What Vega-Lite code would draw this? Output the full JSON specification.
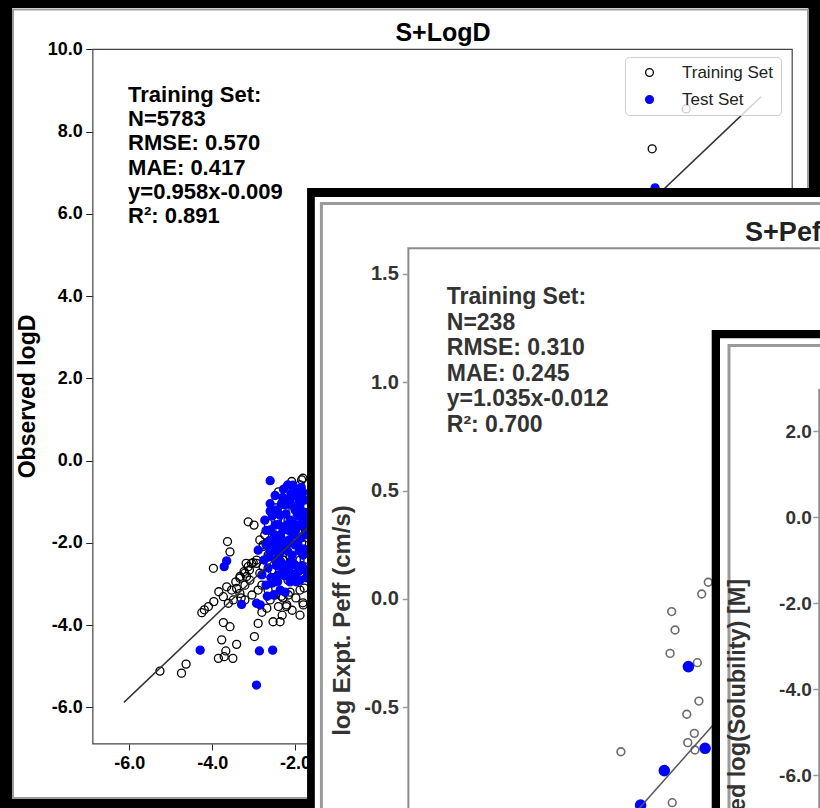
{
  "$schema": "https://vega.github.io/schema/vega-lite/v6.json",
  "width": 820,
  "height": 808,
  "padding": 0,
  "autosize": "none",
  "background": "white",
  "config": {
    "view": {"stroke": null},
    "font": "Liberation Sans",
    "axis": {"labelFont": "Liberation Sans", "titleFont": "Liberation Sans", "grid": false, "domain": false, "labelOverlap": false, "labelFlush": false, "labelBound": false},
    "text": {"font": "Liberation Sans"}
  },
  "datasets": {
    "logd": [
      {"x": -5.26, "y": -5.12, "set": "Training Set"}, {"x": -4.74, "y": -5.17, "set": "Training Set"}, {"x": -4.63, "y": -4.95, "set": "Training Set"},
      {"x": -4.25, "y": -3.70, "set": "Training Set"}, {"x": -4.19, "y": -3.63, "set": "Training Set"}, {"x": -4.09, "y": -3.55, "set": "Training Set"},
      {"x": -3.96, "y": -3.43, "set": "Training Set"}, {"x": -3.97, "y": -2.62, "set": "Training Set"}, {"x": -3.84, "y": -3.19, "set": "Training Set"},
      {"x": -3.73, "y": -3.31, "set": "Training Set"}, {"x": -3.63, "y": -1.97, "set": "Training Set"}, {"x": -3.57, "y": -2.22, "set": "Training Set"},
      {"x": -3.65, "y": -3.07, "set": "Training Set"}, {"x": -3.53, "y": -3.15, "set": "Training Set"}, {"x": -3.41, "y": -3.11, "set": "Training Set"},
      {"x": -3.33, "y": -3.23, "set": "Training Set"}, {"x": -3.49, "y": -3.39, "set": "Training Set"}, {"x": -3.61, "y": -3.47, "set": "Training Set"},
      {"x": -3.73, "y": -3.94, "set": "Training Set"}, {"x": -3.57, "y": -4.04, "set": "Training Set"}, {"x": -3.77, "y": -4.36, "set": "Training Set"},
      {"x": -3.67, "y": -4.63, "set": "Training Set"}, {"x": -3.85, "y": -4.81, "set": "Training Set"}, {"x": -3.71, "y": -4.77, "set": "Training Set"},
      {"x": -3.50, "y": -4.81, "set": "Training Set"}, {"x": -3.41, "y": -4.47, "set": "Training Set"}, {"x": -3.13, "y": -1.49, "set": "Training Set"},
      {"x": -2.99, "y": -1.57, "set": "Training Set"}, {"x": -3.23, "y": -2.70, "set": "Training Set"}, {"x": -3.17, "y": -2.82, "set": "Training Set"},
      {"x": -3.13, "y": -2.58, "set": "Training Set"}, {"x": -3.01, "y": -2.48, "set": "Training Set"}, {"x": -2.93, "y": -2.42, "set": "Training Set"},
      {"x": -2.98, "y": -4.28, "set": "Training Set"}, {"x": -2.89, "y": -3.96, "set": "Training Set"}, {"x": -2.53, "y": -3.92, "set": "Training Set"},
      {"x": -2.36, "y": -3.92, "set": "Training Set"}, {"x": -2.68, "y": -3.59, "set": "Training Set"}, {"x": -2.40, "y": -3.55, "set": "Training Set"},
      {"x": -2.20, "y": -3.51, "set": "Training Set"}, {"x": -1.80, "y": -3.51, "set": "Training Set"}, {"x": -2.40, "y": -0.76, "set": "Training Set"},
      {"x": -2.08, "y": -0.51, "set": "Training Set"}, {"x": -2.20, "y": -0.64, "set": "Training Set"}, {"x": -2.85, "y": -1.93, "set": "Training Set"},
      {"x": -2.77, "y": -2.05, "set": "Training Set"}, {"x": -2.73, "y": -1.81, "set": "Training Set"}, {"x": -2.60, "y": -1.69, "set": "Training Set"},
      {"x": -2.80, "y": -3.03, "set": "Training Set"}, {"x": -2.65, "y": -3.15, "set": "Training Set"}, {"x": -2.48, "y": -3.27, "set": "Training Set"},
      {"x": -2.29, "y": -3.34, "set": "Training Set"}, {"x": -2.12, "y": -3.20, "set": "Training Set"}, {"x": -1.98, "y": -3.34, "set": "Training Set"},
      {"x": -1.88, "y": -3.15, "set": "Training Set"}, {"x": -2.46, "y": -0.96, "set": "Training Set"}, {"x": -2.24, "y": -1.20, "set": "Training Set"},
      {"x": -2.00, "y": -0.84, "set": "Training Set"}, {"x": -1.88, "y": -0.59, "set": "Training Set"}, {"x": -1.81, "y": -0.43, "set": "Training Set"},
      {"x": -2.65, "y": -2.30, "set": "Training Set"}, {"x": -2.56, "y": -2.66, "set": "Training Set"}, {"x": -2.36, "y": -2.78, "set": "Training Set"},
      {"x": -2.17, "y": -2.91, "set": "Training Set"}, {"x": -2.03, "y": -2.78, "set": "Training Set"}, {"x": -1.88, "y": -2.66, "set": "Training Set"},
      {"x": -2.29, "y": -2.42, "set": "Training Set"}, {"x": -2.10, "y": -2.54, "set": "Training Set"}, {"x": -1.78, "y": -2.42, "set": "Training Set"},
      {"x": -1.78, "y": -2.05, "set": "Training Set"}, {"x": -1.93, "y": -1.69, "set": "Training Set"}, {"x": -2.17, "y": -1.45, "set": "Training Set"},
      {"x": -2.41, "y": -1.40, "set": "Training Set"}, {"x": -3.21, "y": -3.03, "set": "Training Set"}, {"x": -3.09, "y": -2.91, "set": "Training Set"},
      {"x": -3.33, "y": -2.86, "set": "Training Set"}, {"x": -3.43, "y": -2.95, "set": "Training Set"}, {"x": -2.89, "y": -3.15, "set": "Training Set"},
      {"x": -3.04, "y": -3.27, "set": "Training Set"}, {"x": -3.21, "y": -3.39, "set": "Training Set"}, {"x": -3.30, "y": -3.34, "set": "Training Set"},
      {"x": -2.60, "y": -3.39, "set": "Training Set"}, {"x": -2.80, "y": -3.69, "set": "Training Set"}, {"x": -2.31, "y": -3.76, "set": "Training Set"},
      {"x": -2.07, "y": -3.64, "set": "Training Set"}, {"x": -1.88, "y": -3.76, "set": "Training Set"}, {"x": -1.78, "y": -3.10, "set": "Training Set"},
      {"x": -2.56, "y": -1.25, "set": "Training Set"}, {"x": -1.76, "y": -1.08, "set": "Training Set"}, {"x": -1.88, "y": -0.91, "set": "Training Set"},
      {"x": -2.65, "y": -1.53, "set": "Training Set"}, {"x": -2.68, "y": -2.01, "set": "Training Set"}, {"x": -1.84, "y": -0.47, "set": "Training Set"},
      {"x": -2.16, "y": -3.27, "set": "Training Set"}, {"x": -2.33, "y": -3.30, "set": "Training Set"}, {"x": -2.21, "y": -3.55, "set": "Training Set"},
      {"x": -1.81, "y": -3.46, "set": "Training Set"}, {"x": -2.77, "y": -2.09, "set": "Training Set"}, {"x": -2.66, "y": -2.07, "set": "Training Set"},
      {"x": -2.60, "y": -2.22, "set": "Training Set"}, {"x": -2.93, "y": -2.50, "set": "Training Set"}, {"x": -2.77, "y": -2.58, "set": "Training Set"},
      {"x": -2.85, "y": -2.74, "set": "Training Set"}, {"x": -2.68, "y": -2.74, "set": "Training Set"}, {"x": -3.33, "y": -2.82, "set": "Training Set"},
      {"x": -3.21, "y": -2.74, "set": "Training Set"}, {"x": -3.10, "y": -2.66, "set": "Training Set"}, {"x": -3.05, "y": -2.50, "set": "Training Set"},
      {"x": -3.18, "y": -2.50, "set": "Training Set"}, {"x": -2.40, "y": -2.26, "set": "Training Set"}, {"x": -2.28, "y": -2.42, "set": "Training Set"},
      {"x": -2.12, "y": -2.34, "set": "Training Set"}, {"x": -2.20, "y": -2.66, "set": "Training Set"}, {"x": -2.04, "y": -2.58, "set": "Training Set"},
      {"x": -1.88, "y": -2.42, "set": "Training Set"}, {"x": -2.04, "y": -1.85, "set": "Training Set"}, {"x": -1.88, "y": -1.77, "set": "Training Set"},
      {"x": -1.84, "y": -2.01, "set": "Training Set"}, {"x": -1.50, "y": -1.20, "set": "Training Set"}, {"x": -1.20, "y": -0.90, "set": "Training Set"},
      {"x": -1.00, "y": -1.30, "set": "Training Set"}, {"x": -0.50, "y": -0.40, "set": "Training Set"}, {"x": 0.20, "y": 0.30, "set": "Training Set"},
      {"x": 1.00, "y": 0.80, "set": "Training Set"}, {"x": 2.00, "y": 2.20, "set": "Training Set"}, {"x": 3.00, "y": 2.60, "set": "Training Set"},
      {"x": 4.00, "y": 4.30, "set": "Training Set"}, {"x": 5.00, "y": 4.60, "set": "Training Set"}, {"x": 6.62, "y": 7.58, "set": "Training Set"},
      {"x": 7.44, "y": 8.55, "set": "Training Set"},
      {"x": -2.60, "y": -0.49, "set": "Test Set"}, {"x": -2.60, "y": -1.23, "set": "Test Set"}, {"x": -2.89, "y": -2.18, "set": "Test Set"},
      {"x": -3.65, "y": -2.44, "set": "Test Set"}, {"x": -3.71, "y": -2.58, "set": "Test Set"}, {"x": -3.29, "y": -3.50, "set": "Test Set"},
      {"x": -2.93, "y": -3.47, "set": "Test Set"}, {"x": -4.29, "y": -4.61, "set": "Test Set"}, {"x": -2.86, "y": -4.63, "set": "Test Set"},
      {"x": -2.54, "y": -4.61, "set": "Test Set"}, {"x": -2.93, "y": -5.46, "set": "Test Set"}, {"x": -2.52, "y": -3.27, "set": "Test Set"},
      {"x": -2.24, "y": -3.20, "set": "Test Set"}, {"x": -2.16, "y": -2.78, "set": "Test Set"}, {"x": -2.73, "y": -1.45, "set": "Test Set"},
      {"x": -2.60, "y": -1.69, "set": "Test Set"}, {"x": -2.48, "y": -1.57, "set": "Test Set"}, {"x": -2.36, "y": -1.33, "set": "Test Set"},
      {"x": -2.24, "y": -1.08, "set": "Test Set"}, {"x": -2.12, "y": -0.96, "set": "Test Set"}, {"x": -2.00, "y": -1.20, "set": "Test Set"},
      {"x": -1.88, "y": -1.08, "set": "Test Set"}, {"x": -1.76, "y": -0.96, "set": "Test Set"}, {"x": -1.95, "y": -0.72, "set": "Test Set"},
      {"x": -1.81, "y": -0.77, "set": "Test Set"}, {"x": -2.12, "y": -1.45, "set": "Test Set"}, {"x": -2.29, "y": -1.69, "set": "Test Set"},
      {"x": -2.43, "y": -1.93, "set": "Test Set"}, {"x": -2.60, "y": -2.18, "set": "Test Set"}, {"x": -2.75, "y": -2.42, "set": "Test Set"},
      {"x": -2.65, "y": -2.61, "set": "Test Set"}, {"x": -2.48, "y": -2.42, "set": "Test Set"}, {"x": -2.31, "y": -2.18, "set": "Test Set"},
      {"x": -2.14, "y": -1.93, "set": "Test Set"}, {"x": -1.98, "y": -1.69, "set": "Test Set"}, {"x": -1.81, "y": -1.45, "set": "Test Set"},
      {"x": -1.76, "y": -1.81, "set": "Test Set"}, {"x": -1.93, "y": -2.05, "set": "Test Set"}, {"x": -2.07, "y": -2.30, "set": "Test Set"},
      {"x": -2.24, "y": -2.54, "set": "Test Set"}, {"x": -2.41, "y": -2.78, "set": "Test Set"}, {"x": -2.70, "y": -3.03, "set": "Test Set"},
      {"x": -2.55, "y": -2.98, "set": "Test Set"}, {"x": -2.00, "y": -2.54, "set": "Test Set"}, {"x": -1.81, "y": -2.30, "set": "Test Set"},
      {"x": -1.76, "y": -2.66, "set": "Test Set"}, {"x": -1.88, "y": -2.91, "set": "Test Set"}, {"x": -2.05, "y": -2.78, "set": "Test Set"},
      {"x": -2.36, "y": -3.15, "set": "Test Set"}, {"x": -2.80, "y": -2.78, "set": "Test Set"}, {"x": -2.17, "y": -0.59, "set": "Test Set"},
      {"x": -1.76, "y": -1.33, "set": "Test Set"}, {"x": -2.84, "y": -3.51, "set": "Test Set"}, {"x": -2.67, "y": -3.30, "set": "Test Set"},
      {"x": -1.98, "y": -0.84, "set": "Test Set"}, {"x": -2.52, "y": -2.05, "set": "Test Set"}, {"x": -2.38, "y": -2.30, "set": "Test Set"},
      {"x": -2.20, "y": -2.05, "set": "Test Set"}, {"x": -2.05, "y": -1.81, "set": "Test Set"}, {"x": -1.90, "y": -1.57, "set": "Test Set"},
      {"x": -2.35, "y": -1.81, "set": "Test Set"}, {"x": -2.20, "y": -1.57, "set": "Test Set"}, {"x": -2.45, "y": -1.20, "set": "Test Set"},
      {"x": -2.30, "y": -0.90, "set": "Test Set"}, {"x": -1.90, "y": -2.20, "set": "Test Set"}, {"x": -2.15, "y": -2.65, "set": "Test Set"},
      {"x": -2.32, "y": -2.60, "set": "Test Set"}, {"x": -1.95, "y": -1.35, "set": "Test Set"}, {"x": -2.05, "y": -1.10, "set": "Test Set"},
      {"x": -2.70, "y": -1.70, "set": "Test Set"}, {"x": -2.62, "y": -1.95, "set": "Test Set"}, {"x": -2.55, "y": -1.35, "set": "Test Set"},
      {"x": -2.50, "y": -1.80, "set": "Test Set"}, {"x": -2.45, "y": -2.55, "set": "Test Set"}, {"x": -2.40, "y": -1.55, "set": "Test Set"},
      {"x": -2.38, "y": -2.05, "set": "Test Set"}, {"x": -2.33, "y": -1.05, "set": "Test Set"}, {"x": -2.28, "y": -1.95, "set": "Test Set"},
      {"x": -2.25, "y": -2.80, "set": "Test Set"}, {"x": -2.22, "y": -1.30, "set": "Test Set"}, {"x": -2.18, "y": -2.20, "set": "Test Set"},
      {"x": -2.15, "y": -1.70, "set": "Test Set"}, {"x": -2.10, "y": -0.80, "set": "Test Set"}, {"x": -2.08, "y": -2.45, "set": "Test Set"},
      {"x": -2.02, "y": -1.55, "set": "Test Set"}, {"x": -2.00, "y": -2.05, "set": "Test Set"}, {"x": -1.97, "y": -2.95, "set": "Test Set"},
      {"x": -1.94, "y": -1.15, "set": "Test Set"}, {"x": -1.92, "y": -2.70, "set": "Test Set"}, {"x": -1.88, "y": -1.90, "set": "Test Set"},
      {"x": -1.85, "y": -0.65, "set": "Test Set"}, {"x": -1.83, "y": -2.55, "set": "Test Set"}, {"x": -1.80, "y": -1.25, "set": "Test Set"},
      {"x": -1.78, "y": -2.15, "set": "Test Set"}, {"x": -1.75, "y": -1.60, "set": "Test Set"}, {"x": -1.73, "y": -2.85, "set": "Test Set"},
      {"x": -2.58, "y": -2.85, "set": "Test Set"}, {"x": -2.65, "y": -2.35, "set": "Test Set"}, {"x": -2.42, "y": -2.95, "set": "Test Set"},
      {"x": -2.28, "y": -0.70, "set": "Test Set"}, {"x": -2.48, "y": -0.85, "set": "Test Set"}, {"x": -2.60, "y": -1.05, "set": "Test Set"},
      {"x": -2.70, "y": -2.05, "set": "Test Set"}, {"x": -2.12, "y": -2.95, "set": "Test Set"}, {"x": -2.35, "y": -2.45, "set": "Test Set"},
      {"x": -1.90, "y": -0.95, "set": "Test Set"}, {"x": -2.05, "y": -0.60, "set": "Test Set"}, {"x": -2.50, "y": -2.20, "set": "Test Set"},
      {"x": -2.20, "y": -0.95, "set": "Test Set"},
      {"x": -1.50, "y": -1.60, "set": "Test Set"}, {"x": -1.20, "y": -1.00, "set": "Test Set"}, {"x": -0.80, "y": -0.90, "set": "Test Set"},
      {"x": 0.50, "y": 0.20, "set": "Test Set"}, {"x": 2.50, "y": 2.10, "set": "Test Set"}, {"x": 4.50, "y": 4.20, "set": "Test Set"},
      {"x": 6.69, "y": 6.63, "set": "Test Set"}
    ],
    "peff_train": [
      {"x": -0.575, "y": 0.077}, {"x": -0.608, "y": 0.023}, {"x": -0.759, "y": -0.058}, {"x": -0.742, "y": -0.143},
      {"x": -0.767, "y": -0.251}, {"x": -0.630, "y": -0.294}, {"x": -0.622, "y": -0.471}, {"x": -0.683, "y": -0.532},
      {"x": -0.645, "y": -0.620}, {"x": -0.678, "y": -0.663}, {"x": -0.642, "y": -0.697}, {"x": -1.014, "y": -0.705},
      {"x": -0.756, "y": -0.940}, {"x": -0.45, "y": -0.30}, {"x": -0.30, "y": -0.20}, {"x": -0.20, "y": 0.10}, {"x": 0.10, "y": 0.20}
    ],
    "peff_test": [
      {"x": -0.675, "y": -0.312}, {"x": -0.591, "y": -0.689}, {"x": -0.796, "y": -0.792}, {"x": -0.915, "y": -0.951}
    ]
  },
  "layer": [
    {
      "encoding": {
        "x": {"field": "x", "type": "quantitative", "scale": {"domain": [-9.121, 10.671], "nice": false, "zero": false},
          "axis": {"orient": "bottom", "offset": -64, "values": [-6, -4, -2, 0, 2, 4, 6, 8],
            "labelExpr": "(datum.value < 0 ? '-' : '') + format(abs(datum.value), '.1f')",
            "labelFontSize": 18, "labelFontWeight": "bold", "labelColor": "#000000", "tickColor": "#222222", "tickSize": 6, "labelPadding": 4,
            "zindex": 0, "title": "Predicted logD", "titleFontSize": 22, "titleFontWeight": "bold", "titleColor": "#000000"}},
        "y": {"field": "y", "type": "quantitative", "scale": {"domain": [-8.449, 11.199], "nice": false, "zero": false},
          "axis": {"orient": "left", "offset": -92.7, "values": [-6, -4, -2, 0, 2, 4, 6, 8, 10],
            "labelExpr": "(datum.value < 0 ? '-' : '') + format(abs(datum.value), '.1f')",
            "labelFontSize": 18, "labelFontWeight": "bold", "labelColor": "#000000", "tickColor": "#222222", "tickSize": 7, "labelPadding": 3.5,
            "zindex": 0, "title": "Observed logD", "titleFontSize": 23, "titleFontWeight": "bold", "titleColor": "#000000",
            "titleAngle": 270, "titleX": -58.2, "titleY": 396, "titleBaseline": "alphabetic", "titleAlign": "center"}}
      },
      "layer": [
        {"data": {"values": [{"x": -8.976, "x2": 10.526, "y": 11.150, "y2": -8.352}]},
         "mark": {"type": "rect", "filled": false, "stroke": "#000000", "strokeWidth": 12},
         "encoding": {"x2": {"field": "x2"}, "y2": {"field": "y2"}}},
        {"data": {"values": [{"x": -8.808, "x2": 10.381, "y": 10.968, "y2": -8.206}]},
         "mark": {"type": "rect", "filled": false, "stroke": "#9a9a9a", "strokeWidth": 2},
         "encoding": {"x2": {"field": "x2"}, "y2": {"field": "y2"}}},
        {"data": {"values": [{"x": -6.88, "x2": 10.0, "y": 10.0, "y2": -6.892}]},
         "mark": {"type": "rect", "filled": false, "stroke": "#444444", "strokeWidth": 1.2},
         "encoding": {"x2": {"field": "x2"}, "y2": {"field": "y2"}}},
        {"data": {"name": "logd"},
         "mark": {"type": "point", "shape": "circle", "filled": true, "size": 64, "strokeWidth": 1.3, "opacity": 1},
         "encoding": {
           "fill": {"field": "set", "type": "nominal", "scale": {"domain": ["Training Set", "Test Set"], "range": ["transparent", "#0000ff"]},
             "legend": {"title": null, "orient": "none", "legendX": 625, "legendY": 57, "padding": 7, "symbolOffset": 9, "labelOffset": 24,
               "rowPadding": 9, "labelFontSize": 17, "labelFont": "Liberation Sans", "labelColor": "#222222", "symbolType": "circle", "symbolSize": 60,
               "symbolStrokeWidth": 1.3, "fillColor": "rgba(255,255,255,0.8)", "strokeColor": "#cccccc", "cornerRadius": 4, "labelLimit": 200}},
           "stroke": {"field": "set", "type": "nominal", "scale": {"domain": ["Training Set", "Test Set"], "range": ["#000000", "#0000ff"]},
             "legend": {"title": null, "orient": "none", "legendX": 625, "legendY": 57, "padding": 7, "symbolOffset": 9, "labelOffset": 24,
               "rowPadding": 9, "labelFontSize": 17, "labelFont": "Liberation Sans", "labelColor": "#222222", "symbolType": "circle", "symbolSize": 60,
               "symbolStrokeWidth": 1.3, "fillColor": "rgba(255,255,255,0.8)", "strokeColor": "#cccccc", "cornerRadius": 4, "labelLimit": 200}}
         }},
        {"data": {"values": [{"x": -6.13, "y": -5.88}, {"x": 9.25, "y": 8.85}]},
         "mark": {"type": "line", "stroke": "#333333", "strokeWidth": 1.5},
         "encoding": {}},
        {"data": {"values": [{"x": -6.03, "y": 8.726, "label": "Training Set:\nN=5783\nRMSE: 0.570\nMAE: 0.417\ny=0.958x-0.009\nR²: 0.891"}]},
         "mark": {"type": "text", "align": "left", "baseline": "alphabetic", "lineBreak": "\n", "lineHeight": 24.3, "fontSize": 22, "fontWeight": "bold", "color": "#000000"},
         "encoding": {"text": {"field": "label"}}},
        {"data": {"values": [{"x": 1.571, "y": 10.19, "label": "S+LogD"}]},
         "mark": {"type": "text", "align": "center", "baseline": "alphabetic", "fontSize": 25, "fontWeight": "bold", "color": "#000000"},
         "encoding": {"text": {"field": "label"}}}
      ]
    },
    {
      "encoding": {
        "x": {"field": "x", "type": "quantitative", "scale": {"domain": [-4.134, -0.0136], "nice": false, "zero": false}, "axis": null},
        "y": {"field": "y", "type": "quantitative", "scale": {"domain": [-0.9645, 2.764], "nice": false, "zero": false},
          "axis": {"orient": "left", "offset": -408.3, "values": [1.5, 1, 0.5, 0, -0.5, -1],
            "labelExpr": "(datum.value < 0 ? '-' : '') + format(abs(datum.value), '.1f')",
            "labelFontSize": 20, "labelFontWeight": "bold", "labelColor": "#333333", "tickColor": "#999999", "tickWidth": 1.5, "tickSize": 6, "labelPadding": 4,
            "zindex": 1, "title": "log Expt. Peff (cm/s)", "titleFontSize": 24, "titleFontWeight": "bold", "titleColor": "#333333",
            "titleAngle": 270, "titleX": -59.1, "titleY": 620, "titleBaseline": "alphabetic", "titleAlign": "center"}}
      },
      "layer": [
        {"data": {"values": [{"x": -2.591, "x2": 0.5, "y": 1.897, "y2": -1.5}]},
         "mark": {"type": "rect", "fill": "#000000"},
         "encoding": {"x2": {"field": "x2"}, "y2": {"field": "y2"}}},
        {"data": {"values": [{"x": -2.552, "x2": 0.5, "y": 1.855, "y2": -1.5}]},
         "mark": {"type": "rect", "fill": "#ffffff"},
         "encoding": {"x2": {"field": "x2"}, "y2": {"field": "y2"}}},
        {"data": {"values": [{"x": -2.519, "x2": 0.5, "y": 1.825, "y2": -1.5}]},
         "mark": {"type": "rect", "filled": false, "stroke": "#9a9a9a", "strokeWidth": 3},
         "encoding": {"x2": {"field": "x2"}, "y2": {"field": "y2"}}},
        {"data": {"values": [{"x": -2.082, "x2": 0.5, "y": 1.618, "y2": -1.5}]},
         "mark": {"type": "rect", "filled": false, "stroke": "#8c8c8c", "strokeWidth": 2},
         "encoding": {"x2": {"field": "x2"}, "y2": {"field": "y2"}}},
        {"data": {"name": "peff_train"},
         "mark": {"type": "point", "shape": "circle", "filled": false, "size": 60, "stroke": "#6a6a6a", "strokeWidth": 1.6, "opacity": 1},
         "encoding": {}},
        {"data": {"name": "peff_test"},
         "mark": {"type": "point", "shape": "circle", "filled": true, "size": 135, "fill": "#0000ff", "opacity": 1},
         "encoding": {}},
        {"data": {"values": [{"x": -1.1, "y": -1.15}, {"x": 1.5, "y": 1.54}]},
         "mark": {"type": "line", "stroke": "#555555", "strokeWidth": 1.5},
         "encoding": {}},
        {"data": {"values": [{"x": -1.889, "y": 1.361, "label": "Training Set:\nN=238\nRMSE: 0.310\nMAE: 0.245\ny=1.035x-0.012\nR²: 0.700"}]},
         "mark": {"type": "text", "align": "left", "baseline": "alphabetic", "lineBreak": "\n", "lineHeight": 25.5, "fontSize": 23, "fontWeight": "bold", "color": "#333333"},
         "encoding": {"text": {"field": "label"}}},
        {"data": {"values": [{"x": -0.390, "y": 1.652, "label": "S+Peff"}]},
         "mark": {"type": "text", "align": "left", "baseline": "alphabetic", "fontSize": 27, "fontWeight": "bold", "color": "#222222"},
         "encoding": {"text": {"field": "label"}}}
      ]
    },
    {
      "encoding": {
        "x": {"field": "x", "type": "quantitative", "scale": {"domain": [-27.53, -8.4605], "nice": false, "zero": false}, "axis": null},
        "y": {"field": "y", "type": "quantitative", "scale": {"domain": [-6.767, 12.023], "nice": false, "zero": false},
          "axis": {"orient": "left", "offset": -818.3, "values": [2, 0, -2, -4, -6],
            "labelExpr": "(datum.value < 0 ? '-' : '') + format(abs(datum.value), '.1f')",
            "labelFontSize": 19, "labelFontWeight": "bold", "labelColor": "#333333", "tickColor": "#999999", "tickWidth": 1.5, "tickSize": 5.5, "labelPadding": 1.5,
            "zindex": 1, "title": "Observed log(Solubility) [M]", "titleFontSize": 23.5, "titleFontWeight": "bold", "titleColor": "#333333",
            "titleAngle": 270, "titleX": -73.8, "titleY": 735, "titleBaseline": "alphabetic", "titleAlign": "center"}}
      },
      "layer": [
        {"data": {"values": [{"x": -10.979, "x2": 0, "y": 4.349, "y2": -10}]},
         "mark": {"type": "rect", "fill": "#000000"},
         "encoding": {"x2": {"field": "x2"}, "y2": {"field": "y2"}}},
        {"data": {"values": [{"x": -10.786, "x2": 0, "y": 4.156, "y2": -10}]},
         "mark": {"type": "rect", "fill": "#ffffff"},
         "encoding": {"x2": {"field": "x2"}, "y2": {"field": "y2"}}},
        {"data": {"values": [{"x": -10.577, "x2": 0, "y": 3.988, "y2": -10}]},
         "mark": {"type": "rect", "filled": false, "stroke": "#9a9a9a", "strokeWidth": 3},
         "encoding": {"x2": {"field": "x2"}, "y2": {"field": "y2"}}},
        {"data": {"values": [{"x": -8.477, "x2": 0, "y": 2.953, "y2": -10}]},
         "mark": {"type": "rect", "filled": false, "stroke": "#8c8c8c", "strokeWidth": 2},
         "encoding": {"x2": {"field": "x2"}, "y2": {"field": "y2"}}}
      ]
    }
  ],
  "resolve": {"scale": {"x": "independent", "y": "independent"}, "axis": {"x": "independent", "y": "independent"}}
}
